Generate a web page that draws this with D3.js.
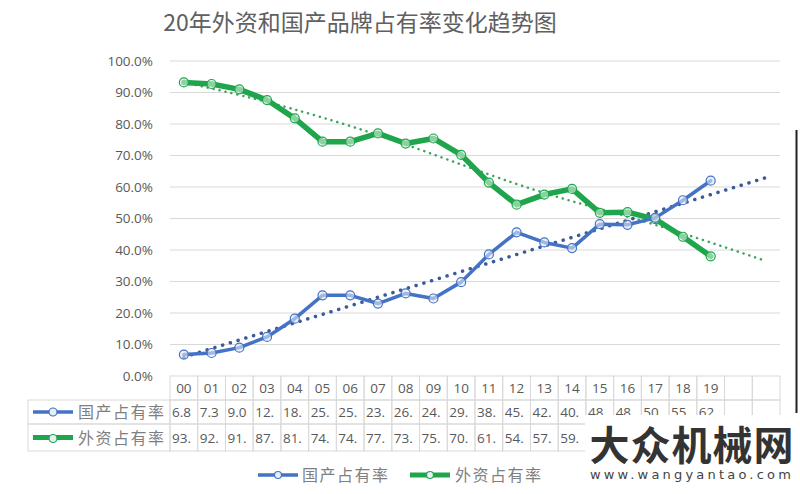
<!DOCTYPE html>
<html><head><meta charset="utf-8">
<script src="https://cdn.jsdelivr.net/npm/d3@7"></script>
<style>
html,body{margin:0;padding:0;background:#fff;}
svg{display:block;font-family:"Open Sans","Noto Sans CJK SC",sans-serif;}
</style></head>
<body>
<script>
const title = "20年外资和国产品牌占有率变化趋势图";
const categories = ["00","01","02","03","04","05","06","07","08","09","10","11","12","13","14","15","16","17","18","19","",""];
const seriesNames = ["国产占有率","外资占有率"];
const domestic = [6.8,7.3,9.0,12.4,18.2,25.6,25.6,23.0,26.2,24.6,29.8,38.6,45.6,42.4,40.6,48.2,48.0,50.2,55.8,62.0];
const foreign = [93.2,92.7,91.0,87.6,81.8,74.4,74.4,77.0,73.8,75.4,70.2,61.4,54.4,57.6,59.4,51.8,52.0,49.8,44.2,38.0];
// dotted trend lines: [category index, value]
const domesticTrend = [[0,6.0],[21,63.0]];
const foreignTrend = [[0,93.2],[3,87.0],[7,76.5],[11,64.0],[14,55.5],[17,48.0],[21,36.5]];
const yTicks = [0,0.1,0.2,0.3,0.4,0.5,0.6,0.7,0.8,0.9,1.0];
// table cells hidden behind the watermark in the reference (foreign row, 15-19)
const hiddenFrom = 15;

const W=800,H=494;
const svg=d3.select("body").append("svg").attr("width",W).attr("height",H);
const blue="#4472c4", green="#1fa64c";
const x=d3.scaleBand().domain(d3.range(categories.length)).range([170,780]);
const cx=i=>x(i)+x.bandwidth()/2;
const y=d3.scaleLinear().domain([0,1]).range([376,61]);

svg.append("text").attr("x",360).attr("y",31).attr("text-anchor","middle")
  .attr("font-size",23).attr("fill","#606060").attr("font-family","'Noto Sans CJK SC',sans-serif").text(title);

// grid
svg.append("g").selectAll("line").data(yTicks.filter(t=>t>0)).join("line")
  .attr("x1",170).attr("x2",780).attr("y1",d=>y(d)).attr("y2",d=>y(d))
  .attr("stroke","#d9d9d9").attr("stroke-width",1);
// y axis
const ya=svg.append("g").attr("transform","translate(159,0)")
  .call(d3.axisLeft(y).tickValues(yTicks).tickFormat(d3.format(".1%")).tickSize(0).tickPadding(6));
ya.select(".domain").remove();
ya.selectAll("text").attr("font-size",13.5).attr("fill","#595959").attr("font-family","'Open Sans',sans-serif");

// data table
const tbl=svg.append("g");
const rowY=[376,400,424,451];
const bw=x.bandwidth();
const gridC="#d9d9d9";
categories.forEach((c,i)=>{
  tbl.append("rect").attr("x",x(i)).attr("y",rowY[0]).attr("width",bw).attr("height",rowY[1]-rowY[0])
    .attr("fill","none").attr("stroke",gridC);
  tbl.append("text").attr("x",cx(i)).attr("y",rowY[0]+17).attr("text-anchor","middle")
    .attr("font-size",13.5).attr("fill","#595959").text(c);
});
[domestic,foreign].forEach((vals,r)=>{
  const y0=rowY[r+1],y1=rowY[r+2];
  tbl.append("rect").attr("x",28).attr("y",y0).attr("width",142).attr("height",y1-y0).attr("fill","none").attr("stroke",gridC);
  categories.forEach((c,i)=>{
    tbl.append("rect").attr("x",x(i)).attr("y",y0).attr("width",bw).attr("height",y1-y0).attr("fill","none").attr("stroke",gridC);
    if(i<vals.length && !(r===1 && i>=hiddenFrom)){
      tbl.append("text").attr("x",x(i)+2).attr("y",(y0+y1)/2+5).attr("font-size",13.5).attr("fill","#595959")
        .text(d3.format(".1f")(vals[i]).slice(0,3));
    }
  });
  const col=r===0?blue:green, sw=r===0?3.5:5;
  const ky=(y0+y1)/2;
  tbl.append("line").attr("x1",33).attr("x2",73).attr("y1",ky).attr("y2",ky).attr("stroke",col).attr("stroke-width",sw);
  tbl.append("circle").attr("cx",53).attr("cy",ky+(r===0?0:1)).attr("r",4).attr("fill","#e8eef8").attr("stroke",col).attr("stroke-width",1.2);
  tbl.append("text").attr("x",78).attr("y",ky+6).attr("font-size",16).attr("letter-spacing",1.5).attr("fill","#7f7f7f")
    .attr("font-family","'Noto Sans CJK SC',sans-serif").text(seriesNames[r]);
});

// trend lines
const tl=d3.line().x(d=>cx(d[0])).y(d=>y(d[1]/100)).curve(d3.curveNatural);
svg.append("path").attr("d",tl(foreignTrend)).attr("fill","none").attr("stroke","#3fa35e")
  .attr("stroke-width",2.5).attr("stroke-dasharray","0.1 6").attr("stroke-linecap","round");
svg.append("path").attr("d",tl(domesticTrend)).attr("fill","none").attr("stroke","#3b5a9a")
  .attr("stroke-width",3.5).attr("stroke-dasharray","0.1 8").attr("stroke-linecap","round");

// series lines
const ln=d3.line().x((d,i)=>cx(i)).y(d=>y(d/100));
[[foreign,green,5.5,"#d6efdc"],[domestic,blue,3.5,"#dfe7f5"]].forEach(([vals,col,sw,fill])=>{
  svg.append("path").attr("d",ln(vals)).attr("fill","none").attr("stroke",col).attr("stroke-width",sw)
    .attr("stroke-linejoin","round").attr("stroke-linecap","round");
  svg.append("g").selectAll("circle").data(vals).join("circle")
    .attr("cx",(d,i)=>cx(i)).attr("cy",d=>y(d/100)).attr("r",4.5)
    .attr("fill",fill).attr("fill-opacity",0.6).attr("stroke",col).attr("stroke-width",1.2);
});

// legend
const lg=svg.append("g");
[[258,blue,3.5,302],[410,green,5,455]].forEach(([lx,col,sw,tx],r)=>{
  lg.append("line").attr("x1",lx).attr("x2",lx+40).attr("y1",475).attr("y2",475).attr("stroke",col).attr("stroke-width",sw);
  lg.append("circle").attr("cx",lx+20).attr("cy",475).attr("r",3.5).attr("fill","#e8eef8").attr("stroke",col).attr("stroke-width",1.2);
  lg.append("text").attr("x",tx).attr("y",481).attr("font-size",16).attr("letter-spacing",1.5).attr("fill","#7f7f7f")
    .attr("font-family","'Noto Sans CJK SC',sans-serif").text(seriesNames[r]);
});

// right frame edge
svg.append("line").attr("x1",796.5).attr("x2",796.5).attr("y1",130).attr("y2",413).attr("stroke","#222").attr("stroke-width",2);

// watermark
svg.append("rect").attr("x",585).attr("y",415).attr("width",215).attr("height",79).attr("fill","#fff");
svg.append("text").attr("x",692).attr("y",460).attr("text-anchor","middle").attr("font-size",40).attr("font-weight","bold")
  .attr("fill","#333").attr("font-family","'Noto Sans CJK SC',sans-serif").attr("letter-spacing",1).text("大众机械网");
svg.append("text").attr("x",692).attr("y",479).attr("text-anchor","middle").attr("font-size",13)
  .attr("fill","#444").attr("letter-spacing",3.2).attr("font-family","'DejaVu Sans',sans-serif").text("www.wangyantao.com");
</script>
</body></html>
